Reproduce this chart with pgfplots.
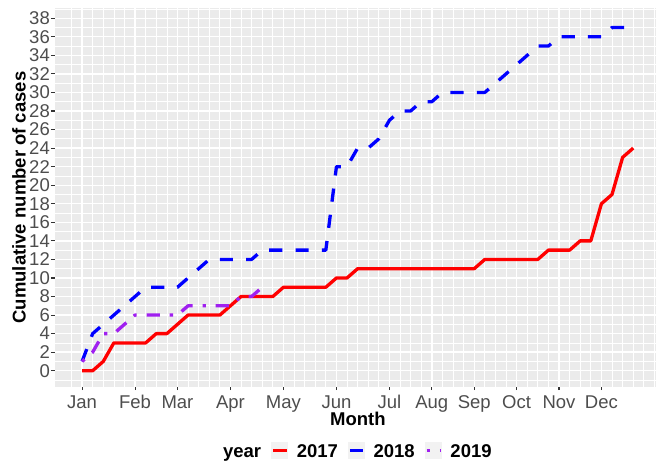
\documentclass[border=0pt]{standalone}
\usepackage{pgfplots}
\pgfplotsset{compat=1.18}
\usepackage{fontspec}
\setmainfont{Liberation Sans}
\definecolor{panelgray}{HTML}{EBEBEB}
\definecolor{keygray}{HTML}{F2F2F2}
\definecolor{ticklabelgray}{HTML}{4D4D4D}
\definecolor{tickgray}{HTML}{333333}
\definecolor{rpurple}{HTML}{A020F0}
\newcommand{\fs}{\fontsize{18.5}{18.5}\selectfont}
\begin{document}
\begin{tikzpicture}
\useasboundingbox (0,0) rectangle (656pt,461pt);
\begin{axis}[
  at={(54.5pt,74.5pt)}, anchor=south west,
  scale only axis, width=601.5pt, height=378pt,
  xmin=-1.6, xmax=55.15, ymin=-1.7, ymax=39.05,
  axis background/.style={fill=panelgray},
  axis line style={draw=none},
  xtick={1,6,10,15,20,25,30,34,38,42,46,50},
  xticklabels={Jan,Feb,Mar,Apr,May,Jun,Jul,Aug,Sep,Oct,Nov,Dec},
  minor xtick={0,...,55},
  ytick={0,2,...,38},
  minor ytick={-1,1,...,39},
  grid=both,
  major grid style={white, line width=1.4pt},
  minor grid style={white, line width=0.7pt},
  tick align=outside,
  major tick length=3.7pt,
  minor tick length=0pt,
  xtick pos=bottom, ytick pos=left,
  tick style={color=tickgray, line width=1.1pt},
  /pgf/number format/assume math mode=true,
  every tick label/.append style={font=\fs, text=ticklabelgray},
  yticklabel style={anchor=east, inner sep=0pt, xshift=-0.8pt},
  xticklabel style={anchor=north, inner sep=0pt, text height=13.2pt, text depth=0pt, yshift=-4.8pt},
  xlabel={Month},
  ylabel={Cumulative number of cases},
  every axis x label/.style={at={(axis description cs:0.5043,-0.1032)}, anchor=base, inner sep=0pt, font=\fs\bfseries},
  every axis y label/.style={at={(axis description cs:-0.0482,0.5)}, rotate=90, anchor=base, inner sep=0pt, font=\fs\bfseries},
  legend columns=-1,
  legend style={at={(axis description cs:0.28013,-0.16931)}, anchor=west, draw=none, fill=none,
    inner sep=0pt, outer sep=0pt, column sep=0pt, font=\fs\bfseries,
    cells={anchor=west},
    nodes={inner sep=0pt, text height=13.2pt, text depth=0pt}},
  legend image code/.code={
    \path[draw=none, fill=keygray] (0pt,-8.5pt) rectangle (17pt,8.5pt);
    \path[draw=none, fill=none] (-10.2pt,-8.5pt) rectangle (25.5pt,8.5pt);
    \draw[#1] (1.7pt,0pt) -- (15.3pt,0pt);
  },
]
\addlegendimage{empty legend}
\addlegendentry{year}
\addplot[red, line width=3.3pt, line cap=butt, line join=round] coordinates {
(1,0)(2,0)(3,1)(4,3)(5,3)(6,3)(7,3)(8,4)(9,4)(10,5)(11,6)(12,6)(13,6)(14,6)(15,7)(16,8)(17,8)(18,8)(19,8)(20,9)(21,9)(22,9)(23,9)(24,9)(25,10)(26,10)(27,11)(28,11)(29,11)(30,11)(31,11)(32,11)(33,11)(34,11)(35,11)(36,11)(37,11)(38,11)(39,12)(40,12)(41,12)(42,12)(43,12)(44,12)(45,13)(46,13)(47,13)(48,14)(49,14)(50,18)(51,19)(52,23)(53,24)};
\addlegendentry{2017}
\addplot[blue, line width=3.3pt, line cap=butt, line join=round, dash pattern=on 13.2pt off 13.2pt] coordinates {
(1,1)(2,4)(3,5)(4,6)(5,7)(6,8)(7,9)(8,9)(9,9)(10,9)(11,10)(12,11)(13,12)(14,12)(15,12)(16,12)(17,12)(18,13)(19,13)(20,13)(21,13)(22,13)(23,13)(24,13)(25,22)(26,22)(27,24)(28,24)(29,25)(30,27)(31,28)(32,28)(33,29)(34,29)(35,30)(36,30)(37,30)(38,30)(39,30)(40,31)(41,32)(42,33)(43,34)(44,35)(45,35)(46,36)(47,36)(48,36)(49,36)(50,36)(51,37)(52,37)(53,37)};
\addlegendentry{2018}
\addplot[rpurple, line width=3.3pt, line cap=butt, line join=round, dash pattern=on 3.3pt off 9.9pt on 13.2pt off 9.9pt] coordinates {
(1,1)(2,2)(3,4)(4,4)(5,5)(6,6)(7,6)(8,6)(9,6)(10,6)(11,7)(12,7)(13,7)(14,7)(15,7)(16,8)(17,8)(18,9)};
\addlegendentry{2019}
\end{axis}
\end{tikzpicture}
\end{document}
